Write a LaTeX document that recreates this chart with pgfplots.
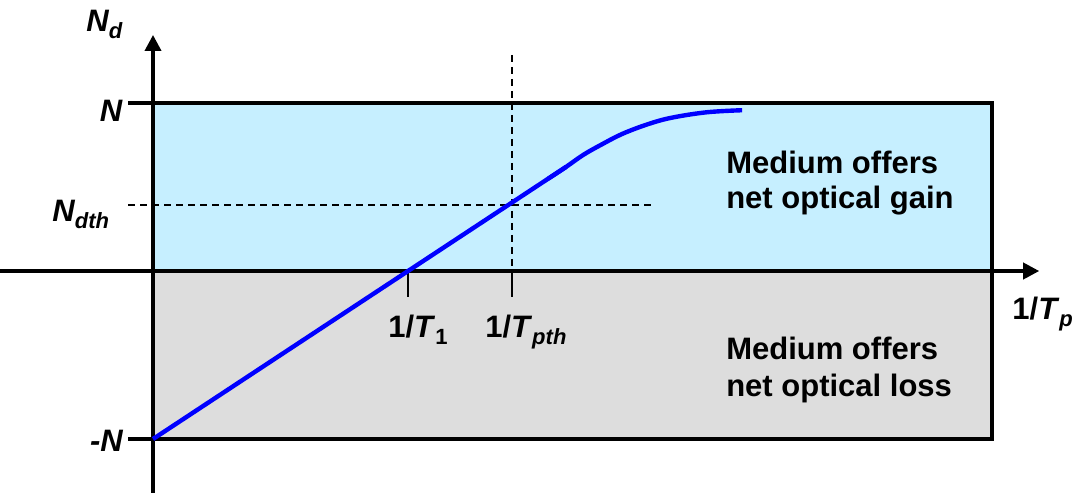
\documentclass[border=0pt]{standalone}
\usepackage{pgfplots}
\pgfplotsset{compat=1.18}
\usepackage{fontspec}
\setmainfont{Liberation Sans}
\usetikzlibrary{arrows.meta}
\definecolor{gainblue}{RGB}{198,239,255}
\definecolor{lossgray}{RGB}{221,221,221}
\newcommand{\lbl}{\fontsize{31}{37}\selectfont\bfseries}
\newcommand{\sub}[1]{\raisebox{-7pt}{\fontsize{22}{22}\selectfont #1}}
\begin{document}
\begin{tikzpicture}
\begin{axis}[
  name=ax,
  x=255pt, y=168pt,
  xmin=-0.6, xmax=3.627, ymin=-1.321, ymax=1.613,
  hide axis, clip=false,
]
% regions
\addplot[fill=gainblue, draw=none] coordinates {(0,0) (3.29,0) (3.29,1) (0,1)} -- cycle;
\addplot[fill=lossgray, draw=none] coordinates {(0,-1) (3.29,-1) (3.29,0) (0,0)} -- cycle;
\addplot[black, line width=3.2pt] coordinates {(-0.098,1) (3.29,1) (3.29,-1) (-0.098,-1)};
% dashed guides
\addplot[black, line width=1.6pt, dash pattern=on 7pt off 5pt] coordinates {(-0.098,0.393) (1.969,0.393)};
\addplot[black, line width=1.6pt, dash pattern=on 7pt off 5pt] coordinates {(1.408,1.286) (1.408,0)};
% x ticks
\addplot[black, line width=2.2pt] coordinates {(1,0) (1,-0.155)};
\addplot[black, line width=2.2pt] coordinates {(1.408,0) (1.408,-0.155)};
% axes
\draw[line width=3.6pt, -{Triangle[length=16pt,width=16pt]}] (axis cs:-0.6,0) -- (axis cs:3.475,0);
\draw[line width=3.6pt, -{Triangle[length=16pt,width=16pt]}] (axis cs:0,-1.321) -- (axis cs:0,1.405);
% curve
\addplot[blue, line width=4.4pt] coordinates {(0,-1) (1,0) (1.62,0.62)};
\addplot[blue, line width=4.4pt, smooth, tension=0.6] coordinates {(1.55,0.55) (1.62,0.62) (1.686,0.690) (1.753,0.748) (1.843,0.818) (1.949,0.878) (2.039,0.914) (2.173,0.945) (2.31,0.957)};
% labels
\node[anchor=base west, inner sep=0] at (axis cs:-0.262,1.423) {\lbl\itshape N\sub{d}};
\node[anchor=base east, inner sep=0] at (axis cs:-0.12,0.887) {\lbl\itshape N};
\node[anchor=base west, inner sep=0] at (axis cs:-0.395,0.292) {\lbl\itshape N\sub{dth}};
\node[anchor=base east, inner sep=0] at (axis cs:-0.118,-1.077) {\lbl\itshape -N};
\node[anchor=base west, inner sep=0] at (axis cs:0.922,-0.393) {\lbl 1/\textit{T}\sub{1}};
\node[anchor=base west, inner sep=0] at (axis cs:1.302,-0.393) {\lbl 1/\textit{T}\sub{\itshape pth}};
\node[anchor=base west, inner sep=0] at (axis cs:3.369,-0.286) {\lbl 1/\textit{T}\sub{\itshape p}};
\node[anchor=base west, inner sep=0] at (axis cs:2.247,0.583) {\lbl Medium offers};
\node[anchor=base west, inner sep=0] at (axis cs:2.247,0.372) {\lbl net optical gain};
\node[anchor=base west, inner sep=0] at (axis cs:2.247,-0.524) {\lbl Medium offers};
\node[anchor=base west, inner sep=0] at (axis cs:2.247,-0.745) {\lbl net optical loss};
\end{axis}
\pgfresetboundingbox
\path (ax.south west) rectangle (ax.north east);
\end{tikzpicture}
\end{document}
